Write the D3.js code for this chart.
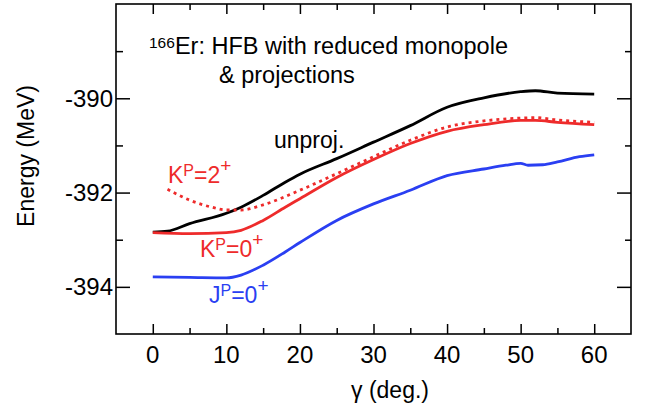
<!DOCTYPE html>
<html><head><meta charset="utf-8">
<script src="https://cdn.jsdelivr.net/npm/d3@7"></script>
<style>body{margin:0;background:#fff} svg{display:block} text{font-family:"Liberation Sans",Arial,sans-serif;fill:#000}</style>
</head><body><svg id="c" width="649" height="413"></svg>
<script>
// ---- data ----
const gammaUnproj = [0, 2, 5, 10, 12, 15, 18, 20, 25, 30, 35, 40, 45, 50, 52, 55, 60];
const eUnproj = [-392.84, -392.82, -392.66, -392.44, -392.31, -392.06, -391.78, -391.61, -391.28, -390.93, -390.58, -390.19, -389.99, -389.86, -389.84, -389.89, -389.91];

const gammaK0 = [0, 5, 10, 12, 15, 18, 20, 25, 30, 35, 40, 45, 50, 52, 55, 60];
const eK0 = [-392.85, -392.87, -392.85, -392.80, -392.59, -392.31, -392.13, -391.68, -391.30, -390.96, -390.70, -390.56, -390.47, -390.47, -390.51, -390.56];

const gammaK2 = [2, 5, 8, 10, 12, 15, 20, 25, 30, 35, 40, 45, 50, 52, 55, 60];
const eK2 = [-391.93, -392.16, -392.31, -392.37, -392.37, -392.26, -391.95, -391.60, -391.24, -390.89, -390.61, -390.48, -390.42, -390.41, -390.46, -390.51];

const gammaJ0 = [0, 5, 10, 12, 15, 18, 20, 25, 30, 35, 40, 45, 48, 50, 51, 53, 55, 58, 60];
const eJ0 = [-393.79, -393.80, -393.81, -393.75, -393.54, -393.26, -393.06, -392.59, -392.24, -391.95, -391.64, -391.50, -391.42, -391.38, -391.42, -391.41, -391.35, -391.24, -391.20];

const xMajor = [0, 10, 20, 30, 40, 50, 60];
const xMinor = [5, 15, 25, 35, 45, 55];
const yMajor = [-390, -392, -394];
const yMinor = [-389, -391, -393];
const xTitle = "\u03b3 (deg.)";
const yTitle = "Energy (MeV)";

// ---- layout ----
const svg = d3.select("#c");
const L = 116, R = 631, T = 4, B = 334;
const x = d3.scaleLinear().domain([-5, 65]).range([L, R]);
const y = d3.scaleLinear().domain([-395, -388]).range([B, T]);

const FS = 24;

// series
const line = d3.line().x(d => x(d[0])).y(d => y(d[1])).curve(d3.curveMonotoneX);
const zip = (a, b) => a.map((v, i) => [v, b[i]]);
const red = "#ee2b2b", blue = "#2a3ff2";
const series = [
  {g: gammaUnproj, e: eUnproj, color: "#000", dash: null},
  {g: gammaK2, e: eK2, color: red, dash: "3,4"},
  {g: gammaK0, e: eK0, color: red, dash: null},
  {g: gammaJ0, e: eJ0, color: blue, dash: null}
];
svg.append("g").selectAll("path").data(series).join("path")
  .attr("d", s => line(zip(s.g, s.e)))
  .attr("fill", "none")
  .attr("stroke", s => s.color)
  .attr("stroke-width", 2.8)
  .attr("stroke-dasharray", s => s.dash);

// axes with inward ticks on all sides
function ticks(axisGen, vals, size, transform) {
  const g = svg.append("g").attr("transform", transform)
    .call(axisGen.tickValues(vals).tickSize(size).tickFormat(""));
  g.select(".domain").remove();
  g.selectAll(".tick line").attr("stroke", "#000").attr("stroke-width", 1.5);
  return g;
}
ticks(d3.axisTop(x), xMajor, 10, `translate(0,${B})`);
ticks(d3.axisTop(x), xMinor, 6, `translate(0,${B})`);
ticks(d3.axisBottom(x), xMajor, 10, `translate(0,${T})`);
ticks(d3.axisBottom(x), xMinor, 6, `translate(0,${T})`);
ticks(d3.axisRight(y), yMajor, 14, `translate(${L},0)`);
ticks(d3.axisRight(y), yMinor, 7, `translate(${L},0)`);
ticks(d3.axisLeft(y), yMajor, 14, `translate(${R},0)`);
ticks(d3.axisLeft(y), yMinor, 6, `translate(${R},0)`);

// frame
svg.append("rect").attr("x", L).attr("y", T).attr("width", R - L).attr("height", B - T)
  .attr("fill", "none").attr("stroke", "#000").attr("stroke-width", 1.6);

// tick labels
svg.append("g").selectAll("text").data(xMajor).join("text")
  .attr("x", d => x(d)).attr("y", B + 29).attr("text-anchor", "middle")
  .attr("font-size", FS).text(d => d);
svg.append("g").selectAll("text").data(yMajor).join("text")
  .attr("x", L - 3).attr("y", d => y(d) + 8.6).attr("text-anchor", "end")
  .attr("font-size", FS).text(d => d);

// axis titles
svg.append("text").attr("x", 390).attr("y", 398).attr("text-anchor", "middle")
  .attr("font-size", 23).text(xTitle);
svg.append("text").attr("transform", "translate(34,156) rotate(-90)").attr("text-anchor", "middle")
  .attr("font-size", 23).text(yTitle);

// title
const t1 = svg.append("text").attr("x", 149).attr("y", 54).attr("font-size", 23.5);
t1.append("tspan").attr("font-size", 15.5).attr("dy", -6).text("166");
t1.append("tspan").attr("dy", 6).text("Er: HFB with reduced monopole");
svg.append("text").attr("x", 219).attr("y", 82.5).attr("font-size", 23.5).text("& projections");

// curve labels
svg.append("text").attr("x", 274).attr("y", 148).attr("font-size", 23).text("unproj.");
function kpLabel(xp, yp, letter, val, color) {
  const t = svg.append("text").attr("x", xp).attr("y", yp).attr("font-size", 23).style("fill", color);
  t.append("tspan").text(letter);
  t.append("tspan").attr("font-size", 16).attr("dy", -7).text("P");
  t.append("tspan").attr("dy", 7).text("=" + val);
  t.append("tspan").attr("font-size", 19).attr("dy", -11).text("+");
}
kpLabel(168, 183, "K", "2", red);
kpLabel(200, 257, "K", "0", red);
kpLabel(209, 303, "J", "0", blue);
</script></body></html>
